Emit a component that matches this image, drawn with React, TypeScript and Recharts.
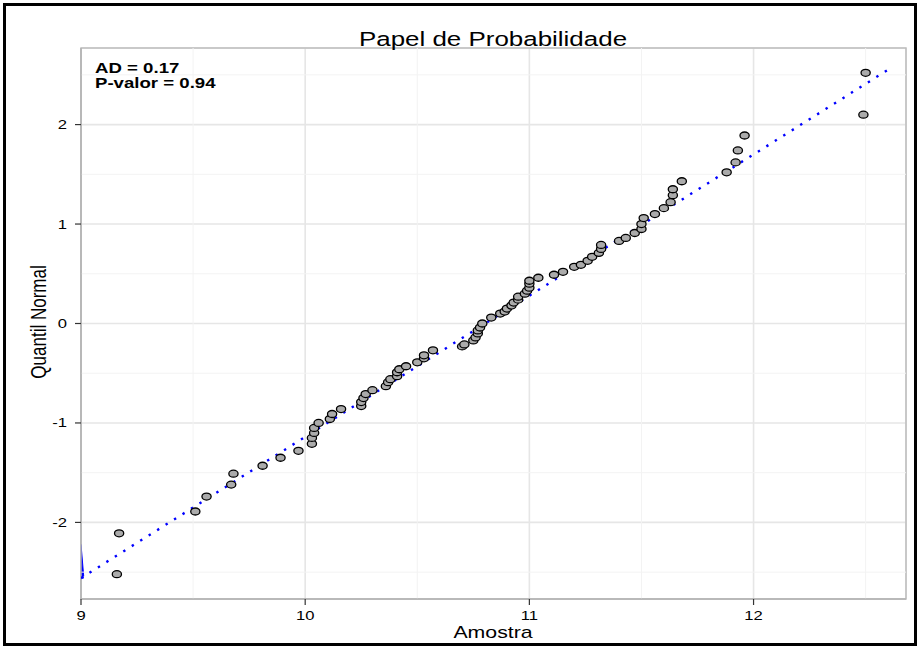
import React from "react";
import {
  ComposedChart,
  Scatter,
  Area,
  XAxis,
  YAxis,
  CartesianGrid,
  ReferenceLine,
  ReferenceArea,
} from "recharts";

// ---- data ----
const sampleValues = [
  9.16, 9.17, 9.51, 9.56, 9.67, 9.68, 9.81, 9.89, 9.97, 10.03,
  10.03, 10.04, 10.04, 10.06, 10.11, 10.12, 10.16, 10.25, 10.25, 10.26,
  10.27, 10.3, 10.36, 10.37, 10.38, 10.41, 10.41, 10.42, 10.45, 10.5,
  10.53, 10.53, 10.57, 10.7, 10.71, 10.75, 10.76, 10.77, 10.77, 10.78,
  10.79, 10.83, 10.87, 10.89, 10.9, 10.92, 10.93, 10.95, 10.95, 10.98,
  10.99, 11.0, 11.0, 11.0, 11.04, 11.11, 11.15, 11.2, 11.23, 11.26,
  11.28, 11.31, 11.32, 11.32, 11.4, 11.43, 11.47, 11.5, 11.5, 11.51,
  11.56, 11.6, 11.63, 11.64, 11.64, 11.68, 11.88, 11.92, 11.93, 11.96,
  12.49, 12.5,
];
const normalQuantiles = [
  -2.52, -2.11, -1.89, -1.74, -1.62, -1.51, -1.43, -1.35, -1.28, -1.21,
  -1.15, -1.1, -1.05, -1.0, -0.96, -0.91, -0.86, -0.83, -0.79, -0.75,
  -0.71, -0.67, -0.63, -0.59, -0.56, -0.53, -0.49, -0.46, -0.43, -0.39,
  -0.35, -0.32, -0.27, -0.23, -0.21, -0.17, -0.14, -0.1, -0.07, -0.04,
  0.0, 0.06, 0.1, 0.12, 0.15, 0.18, 0.21, 0.24, 0.27, 0.3,
  0.33, 0.36, 0.4, 0.43, 0.46, 0.49, 0.52, 0.57, 0.59, 0.63,
  0.67, 0.71, 0.75, 0.79, 0.83, 0.86, 0.91, 0.95, 1.0, 1.06,
  1.1, 1.16, 1.22, 1.29, 1.35, 1.43, 1.52, 1.62, 1.74, 1.89,
  2.1, 2.52,
];
const fitLineX = [9.0, 12.62];
const fitLineY = [-2.56, 2.58];
const bandX = [9.0, 9.012];
const bandLow = [-2.56, -2.56];
const bandHigh = [-2.22, -2.54];

const xTicks = [9, 10, 11, 12];
const yTicks = [-2, -1, 0, 1, 2];
const xMinor = [9.5, 10.5, 11.5, 12.5];
const yMinor = [-2.5, -1.5, -0.5, 0.5, 1.5, 2.5];
const xDomain = [9, 12.68];
const yDomain = [-2.77, 2.77];

const titleText = "Papel de Probabilidade";
const adText = "AD = 0.17";
const pText = "P-valor = 0.94";
const xLabel = "Amostra";
const yLabel = "Quantil Normal";

const points = sampleValues.map((x, i) => ({ x, y: normalQuantiles[i] }));
const fitLine = fitLineX.map((x, i) => ({ x, y: fitLineY[i] }));
const bandData = bandX.map((x, i) => ({ x, band: [bandLow[i], bandHigh[i]] }));

const SX = 1.33;
const FONT = "'Liberation Sans', Arial, sans-serif";

const XTick = (props: any) => {
  const { x, y, payload } = props;
  return (
    <g transform={`translate(${x},${y + 13})`}>
      <text transform={`scale(${SX},1)`} textAnchor="middle" fontSize={12.5} fill="#000" fontFamily={FONT}>
        {payload.value}
      </text>
    </g>
  );
};

const YTick = (props: any) => {
  const { x, y, payload } = props;
  return (
    <g transform={`translate(${x - 6},${y + 4.5})`}>
      <text transform={`scale(${SX},1)`} textAnchor="end" fontSize={12.5} fill="#000" fontFamily={FONT}>
        {payload.value}
      </text>
    </g>
  );
};

const Dot = (props: any) => {
  const { cx, cy } = props;
  if (cx == null || cy == null) return <g />;
  return <ellipse cx={cx} cy={cy} rx={4.6} ry={3.5} fill="#ABABAB" stroke="#000" strokeWidth={1.3} />;
};

export default function App() {
  return (
    <div style={{ position: "absolute", left: 0, top: 0, width: 920, height: 648, background: "#fff" }}>
      <ComposedChart
        width={920}
        height={648}
        data={bandData}
        margin={{ top: 48, right: 14, bottom: 19, left: 40 }}
      >
        <CartesianGrid stroke="#E6E6E6" strokeWidth={1.6} />
        {xMinor.map((v) => (
          <ReferenceLine key={"xm" + v} x={v} stroke="#F3F3F3" strokeWidth={1} />
        ))}
        {yMinor.map((v) => (
          <ReferenceLine key={"ym" + v} y={v} stroke="#F3F3F3" strokeWidth={1} />
        ))}
        <XAxis
          type="number"
          dataKey="x"
          domain={xDomain}
          ticks={xTicks}
          allowDataOverflow
          height={30}
          tickSize={6}
          tickMargin={2}
          axisLine={{ stroke: "#B3B3B3", strokeWidth: 1.5 }}
          tickLine={{ stroke: "#333", strokeWidth: 1.2 }}
          tick={<XTick />}
        />
        <YAxis
          type="number"
          dataKey="y"
          domain={yDomain}
          ticks={yTicks}
          allowDataOverflow
          width={41}
          tickSize={6}
          tickMargin={2}
          axisLine={{ stroke: "#B3B3B3", strokeWidth: 1.5 }}
          tickLine={{ stroke: "#333", strokeWidth: 1.2 }}
          tick={<YTick />}
        />
        <ReferenceArea
          x1={xDomain[0]}
          x2={xDomain[1]}
          y1={yDomain[0]}
          y2={yDomain[1]}
          fill="none"
          fillOpacity={0}
          stroke="#BDBDBD"
          strokeWidth={1.5}
        />
        <Area
          dataKey="band"
          type="linear"
          stroke="#0000FF"
          strokeWidth={1}
          fill="#0000FF"
          fillOpacity={1}
          isAnimationActive={false}
          dot={false}
          activeDot={false}
        />
        <Scatter
          data={fitLine}
          line={{ stroke: "#0000FF", strokeWidth: 2.4, strokeDasharray: "2.4 7.6" }}
          lineType="joint"
          shape={() => <g />}
          isAnimationActive={false}
        />
        <Scatter data={points} shape={<Dot />} isAnimationActive={false} />
      </ComposedChart>
      <svg
        width={920}
        height={648}
        style={{ position: "absolute", left: 0, top: 0, pointerEvents: "none" }}
      >
        <rect x={4.5} y={4.5} width={911} height={640} fill="none" stroke="#000" strokeWidth={3} />
        <g transform="translate(493,46)">
          <text transform={`scale(${SX},1)`} textAnchor="middle" fontSize={19.5} fontFamily={FONT} fill="#000">
            {titleText}
          </text>
        </g>
        <g transform="translate(95,73)">
          <text transform={`scale(${SX},1)`} fontSize={14} fontWeight="bold" fontFamily={FONT} fill="#000">
            {adText}
          </text>
        </g>
        <g transform="translate(95,87.5)">
          <text transform={`scale(${SX},1)`} fontSize={14} fontWeight="bold" fontFamily={FONT} fill="#000">
            {pText}
          </text>
        </g>
        <g transform="translate(493,638)">
          <text transform={`scale(${SX},1)`} textAnchor="middle" fontSize={16} fontFamily={FONT} fill="#000">
            {xLabel}
          </text>
        </g>
        <g transform="translate(46,322)">
          <text transform={`scale(${SX},1) rotate(-90)`} textAnchor="middle" fontSize={17} fontFamily={FONT} fill="#000">
            {yLabel}
          </text>
        </g>
      </svg>
    </div>
  );
}
